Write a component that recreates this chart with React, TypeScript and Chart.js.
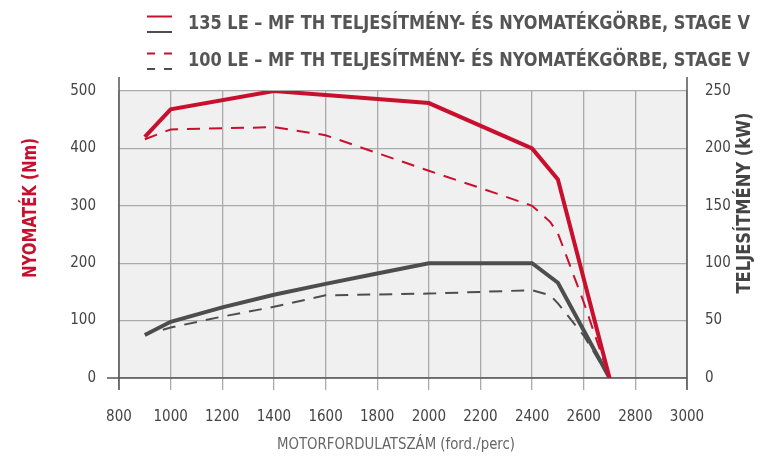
import React, { useEffect, useRef } from "react";
import { Chart, registerables } from "chart.js";

Chart.register(...registerables);

const rpmTicks = [800, 1000, 1200, 1400, 1600, 1800, 2000, 2200, 2400, 2600, 2800, 3000];

const torque135Rpm = [900, 1000, 1400, 2000, 2400, 2500, 2700];
const torque135 = [420, 468, 500, 479, 400, 346, 0];

const power135Rpm = [900, 1000, 1200, 1400, 1600, 1800, 2000, 2400, 2500, 2700];
const power135 = [37.5, 49, 61.5, 72.5, 82, 91, 100, 100, 83, 0];

const torque100Rpm = [900, 1000, 1400, 1600, 1800, 2000, 2200, 2400, 2470, 2500, 2600, 2700];
const torque100 = [416, 433, 437, 423, 392, 361, 331, 300, 272, 252, 132, 0];

const power100Rpm = [970, 1000, 1200, 1400, 1600, 2000, 2200, 2400, 2470, 2500, 2600, 2700];
const power100 = [42, 44, 53.5, 62, 72, 73.5, 75, 76.5, 72, 65, 37, 0];

const legendLabels = [
  "135 LE – MF TH TELJESÍTMÉNY- ÉS NYOMATÉKGÖRBE, STAGE V",
  "100 LE – MF TH TELJESÍTMÉNY- ÉS NYOMATÉKGÖRBE, STAGE V",
];
const leftTitle = "NYOMATÉK (Nm)";
const rightTitle = "TELJESÍTMÉNY (kW)";
const xTitle = "MOTORFORDULATSZÁM (ford./perc)";

const RED = "#c8102e";
const GREY = "#4d4d4d";
const FONT = "'DejaVu Sans Condensed', 'Liberation Sans Narrow', 'Roboto', sans-serif";

function pts(xs: number[], ys: number[]) {
  return xs.map((x, i) => ({ x, y: ys[i] }));
}

function fitText(ctx: CanvasRenderingContext2D, text: string, cx: number, cy: number, width: number) {
  const w = ctx.measureText(text).width;
  ctx.save();
  ctx.translate(cx, cy);
  ctx.scale(width / w, 1);
  ctx.textAlign = "center";
  ctx.textBaseline = "middle";
  ctx.fillText(text, 0, 0);
  ctx.restore();
}

const decorPlugin = {
  id: "decor",
  beforeDraw(chart: any) {
    const { ctx, chartArea: a } = chart;
    ctx.save();
    ctx.fillStyle = "#f0f0f0";
    ctx.fillRect(a.left, a.top, a.right - a.left, a.bottom - a.top);
    ctx.restore();
  },
  beforeDatasetsDraw(chart: any) {
    const { ctx, chartArea: a } = chart;
    ctx.save();
    ctx.strokeStyle = "#555";
    ctx.lineWidth = 1.5;
    ctx.beginPath();
    ctx.moveTo(a.left, a.top - 14);
    ctx.lineTo(a.left, a.bottom + 12);
    ctx.moveTo(a.right, a.top - 14);
    ctx.lineTo(a.right, a.bottom + 12);
    ctx.moveTo(a.left - 12, a.bottom);
    ctx.lineTo(a.right, a.bottom);
    ctx.stroke();
    ctx.restore();
  },
  afterDraw(chart: any) {
    const { ctx } = chart;
    ctx.save();
    const rows = [
      { y: 24, dash: [] as number[] },
      { y: 61, dash: [8, 9] },
    ];
    rows.forEach((r, i) => {
      ctx.lineWidth = 2;
      ctx.setLineDash(r.dash);
      ctx.strokeStyle = RED;
      ctx.beginPath();
      ctx.moveTo(147, r.y - 7.5);
      ctx.lineTo(172, r.y - 7.5);
      ctx.stroke();
      ctx.strokeStyle = GREY;
      ctx.beginPath();
      ctx.moveTo(147, r.y + 8);
      ctx.lineTo(172, r.y + 8);
      ctx.stroke();
      ctx.setLineDash([]);
      ctx.fillStyle = "#555";
      ctx.font = `bold 19px ${FONT}`;
      fitText(ctx, legendLabels[i], (188 + 750) / 2, r.y, 562);
    });
    ctx.fillStyle = RED;
    ctx.font = `bold 20px ${FONT}`;
    ctx.save();
    ctx.translate(31, 208);
    ctx.rotate(-Math.PI / 2);
    fitText(ctx, leftTitle, 0, 0, 140);
    ctx.restore();
    ctx.fillStyle = "#444";
    ctx.save();
    ctx.translate(745, 203);
    ctx.rotate(-Math.PI / 2);
    fitText(ctx, rightTitle, 0, 0, 181);
    ctx.restore();
    ctx.fillStyle = "#666";
    ctx.font = `16px ${FONT}`;
    fitText(ctx, xTitle, 396, 445, 238);
    ctx.restore();
  },
};

export default function App() {
  const ref = useRef<HTMLCanvasElement>(null);
  useEffect(() => {
    document.body.style.margin = "0";
    const tickFont = { family: FONT, size: 15 };
    const chart = new Chart(ref.current!, {
      type: "line",
      data: {
        datasets: [
          {
            label: "t135",
            data: pts(torque135Rpm, torque135),
            borderColor: RED,
            borderWidth: 4,
            yAxisID: "y",
            pointRadius: 0,
            tension: 0,
          },
          {
            label: "t100",
            data: pts(torque100Rpm, torque100),
            borderColor: RED,
            borderWidth: 2,
            borderDash: [13, 9],
            yAxisID: "y",
            pointRadius: 0,
            tension: 0,
          },
          {
            label: "p135",
            data: pts(power135Rpm, power135),
            borderColor: GREY,
            borderWidth: 4,
            yAxisID: "y1",
            pointRadius: 0,
            tension: 0,
          },
          {
            label: "p100",
            data: pts(power100Rpm, power100),
            borderColor: GREY,
            borderWidth: 2,
            borderDash: [13, 9],
            yAxisID: "y1",
            pointRadius: 0,
            tension: 0,
          },
        ],
      },
      options: {
        animation: false,
        responsive: true,
        maintainAspectRatio: false,
        layout: { padding: { top: 91, left: 0, right: 0, bottom: 0 } },
        plugins: { legend: { display: false }, tooltip: { enabled: false } },
        scales: {
          x: {
            type: "linear",
            min: 800,
            max: 3000,
            afterBuildTicks: (s: any) => {
              s.ticks = rpmTicks.map((v) => ({ value: v }));
            },
            afterFit: (s: any) => {
              s.height = 78;
            },
            ticks: {
              font: tickFont,
              color: "#444",
              padding: 18,
              maxRotation: 0,
              autoSkip: false,
              callback: (v: any) => String(v),
            },
            grid: { color: "#aaa", lineWidth: 1.3, tickLength: 12, tickColor: "#aaa" },
            border: { display: false },
          },
          y: {
            position: "left",
            min: 0,
            max: 500,
            ticks: { stepSize: 100, font: tickFont, color: "#444", padding: 23 },
            grid: { color: "#aaa", lineWidth: 1.3, drawTicks: false },
            border: { display: false },
            afterFit: (s: any) => {
              s.width = 119;
            },
          },
          y1: {
            position: "right",
            min: 0,
            max: 250,
            ticks: { stepSize: 50, font: tickFont, color: "#444", padding: 18 },
            grid: { drawOnChartArea: false, drawTicks: false },
            border: { display: false },
            afterFit: (s: any) => {
              s.width = 73;
            },
          },
        },
      },
      plugins: [decorPlugin],
    } as any);
    return () => chart.destroy();
  }, []);
  return (
    <div style={{ position: "relative", width: 760, height: 456 }}>
      <canvas ref={ref} />
    </div>
  );
}
